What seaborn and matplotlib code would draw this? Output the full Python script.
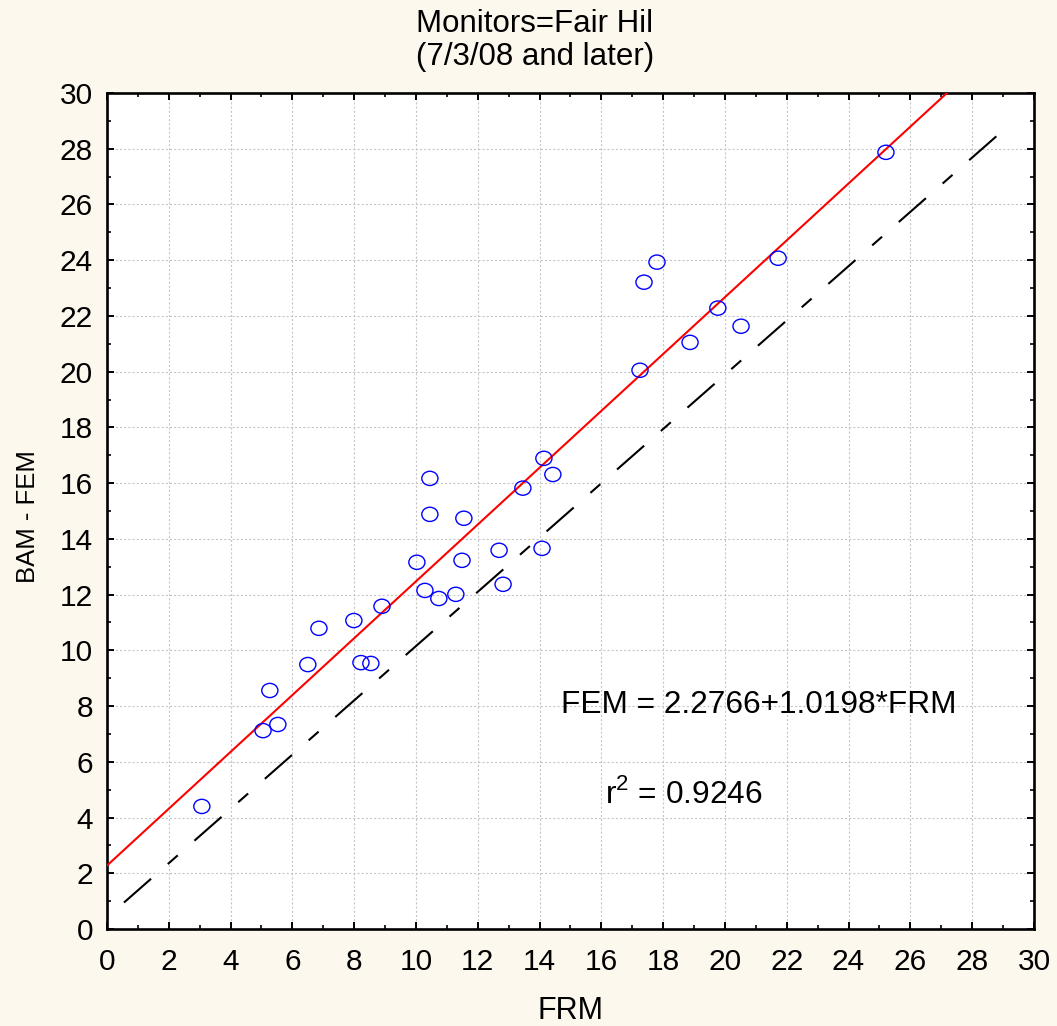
import numpy as np
import pandas as pd
import matplotlib
matplotlib.use("Agg")
import matplotlib.pyplot as plt
from matplotlib.path import Path
from matplotlib.markers import MarkerStyle
from matplotlib.ticker import MultipleLocator
import seaborn as sns

# Paired 24-h PM2.5 samples at Fair Hill (µg/m³)
frm = [3.07, 5.05, 5.53, 5.27, 6.50, 6.86, 7.99, 8.22, 8.54, 8.90,
       10.03, 10.29, 10.45, 10.45, 10.74, 11.29, 11.49, 11.55, 12.69, 12.82,
       13.46, 14.08, 14.14, 14.43, 17.25, 17.38, 17.80, 18.87, 19.77, 20.52,
       21.72, 25.21]
fem = [4.40, 7.12, 7.34, 8.56, 9.49, 10.79, 11.07, 9.56, 9.53, 11.58,
       13.16, 12.15, 14.88, 16.17, 11.86, 12.01, 13.23, 14.74, 13.59, 12.37,
       15.82, 13.66, 16.89, 16.31, 20.05, 23.21, 23.93, 21.05, 22.28, 21.63,
       24.07, 27.87]

# Regression fit
intercept = 2.2766
slope = 1.0198
r_squared = 0.9246

# Reference line
ref_x = [0.55, 29.2]
ref_y = [0.95, 28.85]

axis_ticks = list(range(0, 31, 2))
title_lines = ["Monitors=Fair Hil", "(7/3/08 and later)"]

df = pd.DataFrame({"FRM": frm, "FEM": fem})
fit_x = np.array([0.0, 30.0])
fit_df = pd.DataFrame({"FRM": fit_x, "FEM": intercept + slope * fit_x})
ref_df = pd.DataFrame({"FRM": ref_x, "FEM": ref_y})

sns.set_theme(style="ticks")
plt.rcParams["font.family"] = ["Liberation Sans", "DejaVu Sans"]
plt.rcParams["lines.scale_dashes"] = False
plt.rcParams["mathtext.fontset"] = "custom"
plt.rcParams["mathtext.rm"] = "Liberation Sans"

bg = "#fdf8ee"
fig = plt.figure(figsize=(10.57, 10.26), dpi=100, facecolor=bg)
ax = fig.add_axes([0.1012, 0.0945, 0.8770, 0.8149])
ax.set_facecolor("white")
ax.set_axisbelow(True)

# Slightly flattened open circle marker
circ = Path.unit_circle()
oval = Path(circ.vertices * np.array([1.0, 0.88]), circ.codes)

sns.lineplot(data=ref_df, x="FRM", y="FEM", ax=ax, color="black",
             linewidth=1.5, linestyle=(0, (26, 16, 9.5, 16)), zorder=2)
sns.lineplot(data=fit_df, x="FRM", y="FEM", ax=ax, color="#ff0000",
             linewidth=1.5, zorder=3)
sns.scatterplot(data=df, x="FRM", y="FEM", ax=ax, marker=MarkerStyle(oval),
                s=135, facecolor="none", edgecolor="#0000ff", linewidth=1.0,
                zorder=4)

ax.set_xlim(0, 30)
ax.set_ylim(0, 30)
ax.set_xticks(axis_ticks)
ax.set_yticks(axis_ticks)
ax.xaxis.set_minor_locator(MultipleLocator(1))
ax.yaxis.set_minor_locator(MultipleLocator(1))
ax.grid(True, which="major", color="#c4c4c4", linewidth=0.8,
        linestyle=(0, (1.5, 1.5)))

for side in ["left", "right", "top", "bottom"]:
    ax.spines[side].set_visible(True)
    ax.spines[side].set_linewidth(1.9)
    ax.spines[side].set_color("black")

ax.tick_params(which="both", direction="in", top=True, right=True,
               colors="black", labelsize=21.5)
ax.tick_params(which="major", length=5, width=1.4)
ax.tick_params(which="minor", length=3, width=1.2)
ax.tick_params(axis="x", which="major", pad=14)
ax.tick_params(axis="y", which="major", pad=10)

ax.set_xlabel("FRM", fontsize=22, color="black")
ax.xaxis.label.set_va("baseline")
ax.xaxis.set_label_coords(0.5, -0.1075)
ax.set_ylabel("BAM - FEM", fontsize=18.5, color="black")
ax.yaxis.set_label_coords(-0.0725, 0.493)

ax.text(14.68, 7.74, f"FEM = {intercept:.4f}+{slope:.4f}*FRM",
        fontsize=22.8, color="black", ha="left", va="baseline")
ax.text(16.12, 4.52, f"r$^2$ = {r_squared:.4f}",
        fontsize=22.8, color="black", ha="left", va="baseline")

fig.text(535 / 1057, 1 - 32 / 1026, title_lines[0], fontsize=22.5,
         ha="center", va="baseline", color="black")
fig.text(535 / 1057, 1 - 65 / 1026, title_lines[1], fontsize=22.5,
         ha="center", va="baseline", color="black")

fig.savefig("out.png", dpi=100, facecolor=bg)
